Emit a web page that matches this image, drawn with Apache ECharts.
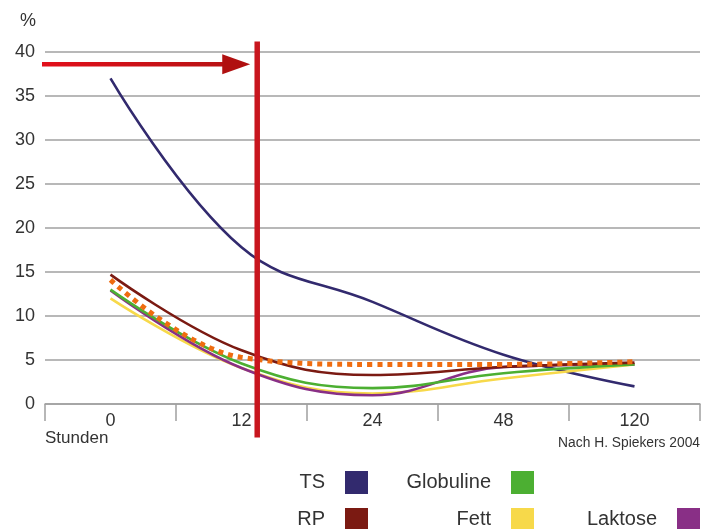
<!DOCTYPE html>
<html><head><meta charset="utf-8">
<script src="https://cdn.jsdelivr.net/npm/echarts@6/dist/echarts.min.js"></script>
<style>html,body{margin:0;padding:0;background:#fff}#c{width:711px;height:529px}</style>
</head><body><div id="c"></div>
<script>
const categories = ['0', '12', '24', '48', '120'];
const yTicks = [0, 5, 10, 15, 20, 25, 30, 35, 40];
const tsValues = [37.0, 17.8, 11.6, 5.6, 2.0];
const rpValues = [14.7, 6.1, 3.3, 4.2, 4.7];
const globulineValues = [13.0, 4.6, 1.8, 3.5, 4.5];
const fettValues = [12.0, 4.1, 1.2, 2.9, 4.5];
const laktoseValues = [12.9, 4.1, 1.0, 4.2, 4.5];
const referenzValues = [14.1, 5.3, 4.5, 4.5, 4.8];
const arrowLevel = 38.6;      // height of the red arrow (%)
const markerPosition = 1.12;  // red vertical line, in category units (just after 12 h)

const font = '"Liberation Sans", Arial, sans-serif';
const txt = '#333333';
const grey = '#a0a0a0';

const chart = echarts.init(document.getElementById('c'));

function lineSeries(name, data, color, z) {
  return { name, type: 'line', data, smooth: 0.4, symbol: 'none', z,
    lineStyle: { color, width: 2.6 }, itemStyle: { color } };
}

function legendItem(name, right, top) {
  return { data: [name], right, top, align: 'right', orient: 'horizontal',
    padding: 0, itemWidth: 23, itemHeight: 23, icon: 'rect', selectedMode: false,
    textStyle: { fontFamily: font, fontSize: 20, color: txt, padding: [0, 15, 0, 0] } };
}

chart.setOption({
  animation: false,
  textStyle: { fontFamily: font },
  grid: { left: 45, right: 11, top: 52, bottom: 125, containLabel: false },
  xAxis: {
    type: 'category', data: categories, boundaryGap: true,
    axisLine: { lineStyle: { color: grey, width: 1.5 } },
    axisTick: { show: true, length: 17, lineStyle: { color: grey, width: 1.5 } },
    axisLabel: { fontFamily: font, fontSize: 18, color: txt, margin: 8 },
    splitLine: { show: false }
  },
  yAxis: {
    type: 'value', min: yTicks[0], max: yTicks[yTicks.length - 1], interval: yTicks[1] - yTicks[0],
    axisLine: { show: false }, axisTick: { show: false },
    axisLabel: { fontFamily: font, fontSize: 18, color: txt, margin: 10 },
    splitLine: { lineStyle: { color: grey, width: 1.5 } }
  },
  legend: [
    legendItem('TS', 343, 471),
    legendItem('Globuline', 177, 471),
    legendItem('RP', 343, 508),
    legendItem('Fett', 177, 508),
    legendItem('Laktose', 11, 508)
  ],
  series: [
    lineSeries('TS', tsValues, '#322a6e', 2),
    lineSeries('Fett', fettValues, '#f7d94a', 3),
    lineSeries('Laktose', laktoseValues, '#892f86', 4),
    lineSeries('Globuline', globulineValues, '#4caf32', 5),
    lineSeries('RP', rpValues, '#7b1a12', 6),
    { name: 'Referenz', type: 'line', data: referenzValues, smooth: 0.4, symbol: 'none', z: 7,
      lineStyle: { color: '#ef6c10', width: 5, type: [5, 5], cap: 'butt' }, itemStyle: { color: '#ef6c10' } }
  ]
});

// annotations positioned through the axes
const p0 = chart.convertToPixel({ gridIndex: 0 }, [0, 0]);
const p1 = chart.convertToPixel({ gridIndex: 0 }, [1, 0]);
const p2 = chart.convertToPixel({ gridIndex: 0 }, [2, 0]);
const band = p1[0] - p0[0];
const xMarker = p1[0] + (markerPosition - 1) * (p2[0] - p1[0]);
const yArrow = chart.convertToPixel({ yAxisIndex: 0 }, arrowLevel);
const yTop = chart.convertToPixel({ yAxisIndex: 0 }, 41.2);
const yBottom = chart.convertToPixel({ yAxisIndex: 0 }, -3.8);
const xLeft = p0[0] - band / 2;
const xRight = chart.convertToPixel({ gridIndex: 0 }, [4, 0])[0] + band / 2;
const yZero = p0[1];

chart.setOption({
  graphic: [
    { type: 'line', z: 100, shape: { x1: xMarker, y1: yTop, x2: xMarker, y2: yBottom },
      style: { stroke: '#c8161e', lineWidth: 5.5 } },
    { type: 'line', z: 100, shape: { x1: xLeft - 3, y1: yArrow, x2: xMarker - 34, y2: yArrow },
      style: { lineWidth: 4.5, stroke: new echarts.graphic.LinearGradient(0, 0, 1, 0, [
        { offset: 0, color: '#e3101b' }, { offset: 1, color: '#b81214' }]) } },
    { type: 'polygon', z: 100, shape: { points: [[xMarker - 35, yArrow - 10], [xMarker - 7, yArrow], [xMarker - 35, yArrow + 10]] },
      style: { fill: '#b01010' } },
    { type: 'text', left: 20, top: 12, style: { text: '%', font: '18px ' + font, fill: txt } },
    { type: 'text', left: xLeft, top: yZero + 26, style: { text: 'Stunden', font: '17px ' + font, fill: txt } },
    { type: 'text', right: 711 - xRight, top: yZero + 32, style: { text: 'Nach H. Spiekers 2004', font: '13.8px ' + font, fill: txt, textAlign: 'right' } }
  ]
});
</script>
</body></html>
